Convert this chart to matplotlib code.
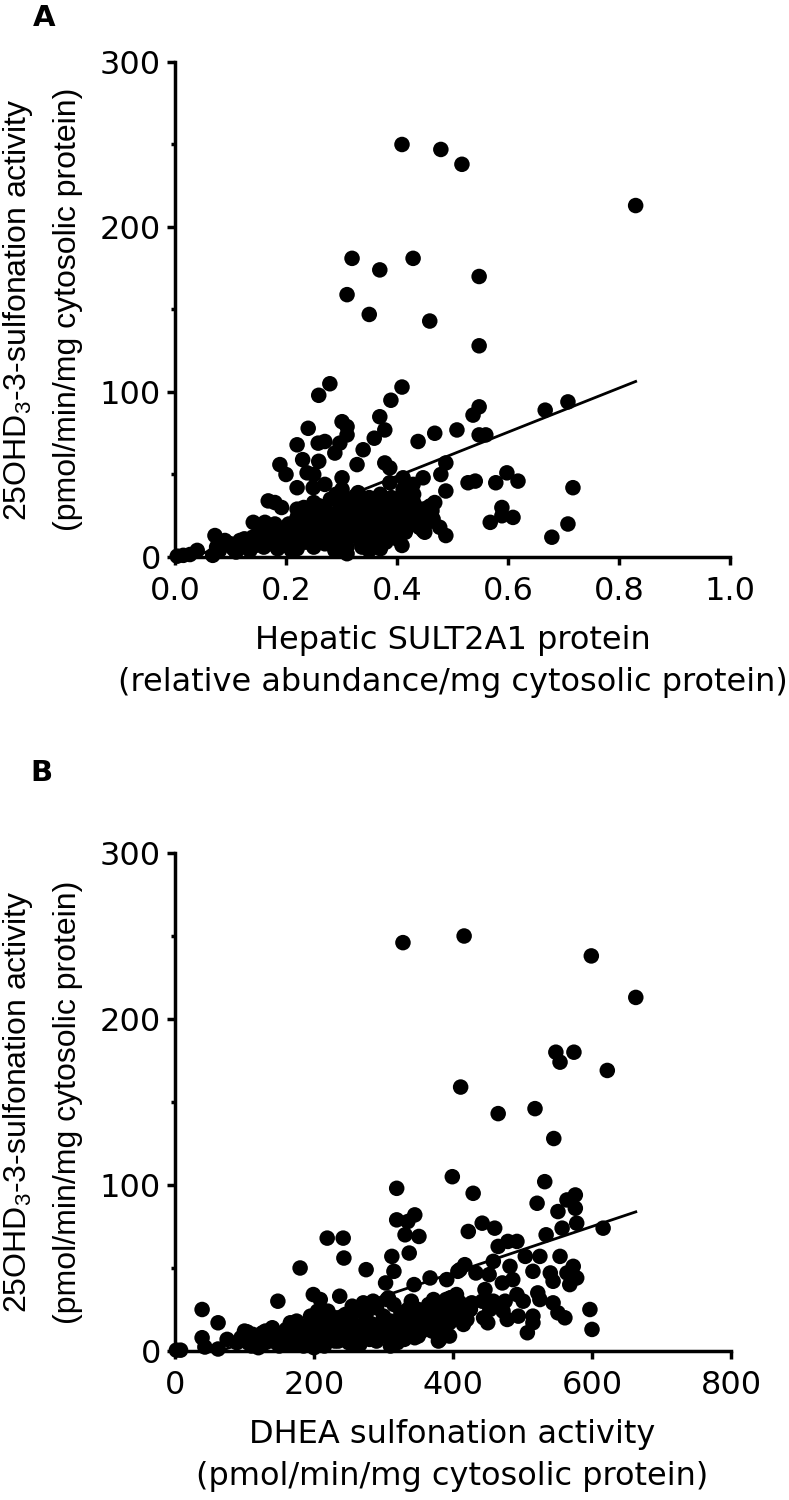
import numpy as np
import matplotlib
matplotlib.use("Agg")
import matplotlib.pyplot as plt
from matplotlib.ticker import MultipleLocator, FormatStrFormatter

# ---------------- Panel A data: SULT2A1 protein vs 25OHD3 sulfonation ----------------
a_high_x = [0.409, 0.479, 0.517, 0.830, 0.319, 0.369, 0.429, 0.548, 0.310, 0.350, 0.459, 0.548]
a_high_y = [250, 247, 238, 213, 181, 174, 181, 170, 159, 147, 143, 128]

a_mid_x = [0.279, 0.259, 0.409, 0.389, 0.369, 0.378, 0.359, 0.339, 0.328, 0.301,
           0.310, 0.310, 0.297, 0.288, 0.270, 0.258, 0.240, 0.220, 0.230, 0.259,
           0.238, 0.250, 0.189, 0.200, 0.220, 0.249, 0.270, 0.301, 0.301, 0.168,
           0.180, 0.192, 0.220, 0.232, 0.141, 0.162]
a_mid_y = [105, 98, 103, 95, 85, 77, 72, 65, 56, 82,
           79, 74, 69, 63, 70, 69, 78, 68, 59, 58,
           51, 50, 56, 50, 42, 42, 44, 48, 41, 34,
           33, 30, 29, 30, 21, 21]

a_right_x = [0.438, 0.468, 0.508, 0.537, 0.548, 0.548, 0.560, 0.667, 0.708, 0.528,
             0.541, 0.488, 0.479, 0.488, 0.468, 0.456, 0.447, 0.429, 0.411, 0.387,
             0.378, 0.387, 0.411, 0.447, 0.477, 0.488, 0.436, 0.411, 0.450, 0.463,
             0.578, 0.598, 0.618, 0.717, 0.589, 0.589, 0.609, 0.568, 0.708, 0.679]
a_right_y = [70, 75, 77, 86, 91, 74, 74, 89, 94, 45,
             46, 57, 50, 40, 33, 30, 48, 44, 41, 45,
             57, 54, 48, 16, 18, 13, 24, 16, 15, 28,
             45, 51, 46, 42, 30, 25, 24, 21, 20, 12]

a_low_x = [0.004, 0.015, 0.027, 0.040, 0.068, 0.072, 0.090, 0.117, 0.288, 0.337, 0.351, 0.409]
a_low_y = [0.5, 1, 1.5, 4, 1, 13, 10, 10, 4, 6, 7, 7]

a_dense_x = [0.075, 0.08, 0.10, 0.105, 0.12, 0.13, 0.135, 0.14, 0.145, 0.15,
             0.155, 0.16, 0.165, 0.17, 0.175, 0.18, 0.185, 0.19, 0.195, 0.20,
             0.20, 0.205, 0.21, 0.215, 0.22, 0.22, 0.225, 0.23, 0.235, 0.24,
             0.24, 0.245, 0.25, 0.25, 0.255, 0.26, 0.26, 0.265, 0.27, 0.27,
             0.275, 0.28, 0.28, 0.285, 0.29, 0.29, 0.295, 0.30, 0.30, 0.30,
             0.305, 0.31, 0.31, 0.315, 0.32, 0.32, 0.325, 0.33, 0.33, 0.335,
             0.34, 0.34, 0.345, 0.35, 0.35, 0.355, 0.36, 0.36, 0.365, 0.37,
             0.37, 0.375, 0.38, 0.38, 0.385, 0.39, 0.39, 0.395, 0.40, 0.40,
             0.405, 0.41, 0.41, 0.415, 0.42, 0.425, 0.43, 0.435, 0.44, 0.445,
             0.45, 0.455, 0.46, 0.465,
             0.11, 0.125, 0.16, 0.18, 0.21, 0.23, 0.25, 0.27, 0.29, 0.31,
             0.33, 0.35, 0.37, 0.39, 0.41, 0.43, 0.31, 0.33, 0.35, 0.37]
a_dense_y = [6, 4, 8, 5, 6, 9, 4, 12, 7, 10,
             14, 6, 11, 8, 15, 12, 5, 9, 17, 13,
             7, 20, 10, 15, 24, 5, 12, 18, 9, 22,
             14, 27, 6, 17, 11, 23, 31, 14, 8, 20,
             26, 12, 35, 17, 4, 22, 28, 10, 15, 33,
             19, 25, 6, 30, 13, 21, 37, 17, 27, 9,
             23, 32, 14, 19, 29, 25, 11, 35, 21, 16,
             30, 26, 9, 20, 33, 14, 24, 29, 18, 11,
             31, 22, 26, 15, 28, 20, 33, 24, 18, 29,
             26, 21, 31, 23,
             3, 11, 16, 20, 4, 26, 33, 30, 38, 35,
             39, 36, 38, 36, 35, 38, 2, 12, 4, 5]

# regression line
a_slope, a_intercept = 133.6, -4.5

# ---------------- Panel B data: DHEA sulfonation vs 25OHD3 sulfonation ----------------
b_high_x = [328, 416, 599, 663, 548, 574, 554, 622, 411, 465, 518, 545]
b_high_y = [246, 250, 238, 213, 180, 180, 174, 169, 159, 143, 146, 128]

b_upper_x = [399, 429, 532, 521, 551, 564, 576, 576, 442, 460,
             422, 534, 557, 578, 616, 319, 319, 335, 345, 331,
             351, 337, 312, 315, 219, 242, 243, 180, 275]
b_upper_y = [105, 95, 102, 89, 84, 91, 94, 86, 77, 74,
             72, 70, 74, 77, 74, 98, 79, 78, 82, 70,
             69, 59, 57, 48, 68, 68, 56, 50, 49]

b_mid_x = [465, 479, 492, 504, 525, 554, 458, 417, 410, 433,
           452, 482, 515, 540, 573, 564, 578, 544, 568, 391,
           471, 486, 446, 367, 407, 344, 303]
b_mid_y = [63, 66, 66, 57, 57, 57, 54, 52, 49, 47,
           46, 51, 48, 47, 51, 47, 44, 42, 40, 43,
           41, 43, 37, 44, 48, 40, 41]

b_lowright_x = [492, 522, 501, 525, 544, 396, 406, 427, 442, 458,
                475, 399, 425, 453, 472, 494, 515, 515, 551, 561,
                597, 600, 420, 450, 478, 507, 386, 381, 404, 444]
b_lowright_y = [34, 35, 30, 31, 29, 32, 31, 29, 30, 30,
                30, 26, 25, 25, 24, 21, 21, 17, 23, 20,
                25, 13, 19, 17, 19, 11, 15, 7, 20, 20]

b_left_x = [39, 62, 39, 43, 62, 2, 8, 89, 75, 104,
            126, 148, 166, 199, 209, 237, 220, 271, 285, 307,
            372, 397, 379, 310, 266, 184, 213, 256, 285, 347]
b_left_y = [25, 17, 8, 2.4, 1.2, 0.5, 0.5, 5, 7, 11.5,
            11, 30, 17, 34, 31, 33, 24, 29, 30, 32,
            31, 32, 6, 3, 4, 4, 7, 10, 9, 12]

b_dense_x = [95, 105, 112, 118, 125, 130, 135, 140, 145, 150,
             155, 160, 165, 170, 175, 180, 185, 190, 195, 200,
             205, 210, 215, 220, 225, 230, 235, 240, 245, 250,
             255, 260, 265, 270, 275, 280, 285, 290, 295, 300,
             305, 310, 315, 320, 325, 330, 335, 340, 345, 350,
             355, 360, 365, 370, 375, 380, 385, 390, 395, 400,
             405, 410, 415, 150, 170, 190, 210, 230, 250, 270,
             290, 310, 330, 350, 370, 390, 120, 200, 260, 320, 380,
             100, 110, 130, 140, 160, 175, 185, 195, 205, 215,
             225, 235, 245, 255, 265, 275, 285, 295, 305, 315,
             325, 335, 345, 355, 365, 375, 385, 395, 405, 415]
b_dense_y = [8, 5, 10, 4, 7, 12, 9, 6, 11, 5,
             8, 13, 7, 10, 14, 6, 12, 9, 16, 11,
             8, 14, 18, 6, 12, 20, 10, 15, 22, 8,
             17, 13, 24, 11, 19, 7, 16, 26, 13, 21,
             9, 18, 28, 14, 23, 11, 20, 30, 16, 25,
             12, 22, 18, 27, 14, 24, 20, 31, 17, 26,
             22, 29, 24, 3, 4, 5, 4, 6, 5, 8,
             6, 10, 7, 9, 12, 10, 2, 2, 4, 5, 8,
             12, 3, 5, 14, 4, 18, 3, 21, 24, 3,
             16, 6, 12, 27, 4, 22, 13, 9, 31, 6,
             17, 25, 8, 19, 28, 13, 24, 9, 34, 16]

b_slope, b_intercept = 0.14, -9.0

y_label_top = r"25OHD$_3$-3-sulfonation activity"
y_label_bottom = "(pmol/min/mg cytosolic protein)"
a_xlabel = ["Hepatic SULT2A1 protein", "(relative abundance/mg cytosolic protein)"]
b_xlabel = ["DHEA sulfonation activity", "(pmol/min/mg cytosolic protein)"]

plt.rcParams['font.family'] = ['Liberation Sans', 'DejaVu Sans']
plt.rcParams['mathtext.fontset'] = 'custom'
plt.rcParams['mathtext.rm'] = 'Liberation Sans'
plt.rcParams['mathtext.default'] = 'regular'

W, H = 789, 1500
FS = 23
WIDE = 'DejaVu Sans'   # horizontal text in the source is rendered wider than Arial
fig = plt.figure(figsize=(W / 100, H / 100), dpi=100)


def px_axes(left, top, right, bottom):
    return fig.add_axes([left / W, 1 - bottom / H, (right - left) / W, (bottom - top) / H])


def style_axes(ax):
    for side in ['top', 'right']:
        ax.spines[side].set_visible(False)
    for side in ['left', 'bottom']:
        ax.spines[side].set_linewidth(2.5)
        ax.spines[side].set_capstyle('projecting')
    ax.tick_params(which='major', length=6, width=2.5, labelsize=FS, pad=4,
                   labelfontfamily=WIDE)
    ax.tick_params(axis='x', which='major', pad=8)
    ax.tick_params(which='minor', length=3, width=2.5)
    ax.yaxis.set_major_locator(MultipleLocator(100))
    ax.yaxis.set_minor_locator(MultipleLocator(50))
    ax.set_ylim(0, 300)


def draw_panel(ax, xs, ys, slope, intercept):
    x = np.concatenate([np.asarray(v, float) for v in xs])
    y = np.concatenate([np.asarray(v, float) for v in ys])
    ax.scatter(x, y, s=125, color='black', edgecolors='none', zorder=3, clip_on=False)
    lx = np.array([max(x.min(), -intercept / slope), x.max()])
    ax.plot(lx, slope * lx + intercept, color='black', lw=2.0, zorder=4)


def add_xlabel(lines, y1, y2):
    xc = (175 + 730) / 2 / W
    fig.text(xc, 1 - y1 / H, lines[0], ha='center', va='center', fontsize=FS, family=WIDE)
    fig.text(xc, 1 - y2 / H, lines[1], ha='center', va='center', fontsize=FS, family=WIDE)


# Panel A
axA = px_axes(175, 62, 730, 557)
style_axes(axA)
draw_panel(axA, [a_high_x, a_mid_x, a_right_x, a_low_x, a_dense_x],
           [a_high_y, a_mid_y, a_right_y, a_low_y, a_dense_y], a_slope, a_intercept)
axA.set_xlim(0, 1.0)
axA.xaxis.set_major_locator(MultipleLocator(0.2))
axA.xaxis.set_major_formatter(FormatStrFormatter('%.1f'))
add_xlabel(a_xlabel, 640, 683)

# Panel B
axB = px_axes(175, 853, 731, 1351)
style_axes(axB)
draw_panel(axB, [b_high_x, b_upper_x, b_mid_x, b_lowright_x, b_left_x, b_dense_x],
           [b_high_y, b_upper_y, b_mid_y, b_lowright_y, b_left_y, b_dense_y], b_slope, b_intercept)
axB.set_xlim(0, 800)
axB.xaxis.set_major_locator(MultipleLocator(200))
add_xlabel(b_xlabel, 1434, 1477)

# y labels (two lines each) and panel letters
for top, bottom, letter, lx, ly in [(62, 557, 'A', 44, 18), (853, 1351, 'B', 41, 773)]:
    yc = 1 - (top + bottom) / 2 / H
    fig.text(18 / W, yc, y_label_top, rotation=90, ha='center', va='center', fontsize=FS)
    fig.text(68 / W, yc, y_label_bottom, rotation=90, ha='center', va='center', fontsize=FS)
    fig.text(lx / W, 1 - ly / H, letter, ha='center', va='center', fontsize=21,
             fontweight='bold', family=WIDE)

fig.savefig('out.png', dpi=100)
